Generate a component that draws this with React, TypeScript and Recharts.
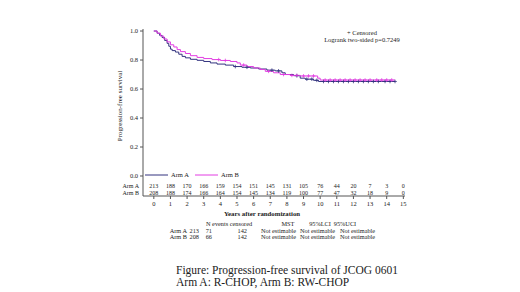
import React from "react";
import { ComposedChart, Line, Scatter, XAxis, YAxis } from "recharts";

const xTicks = [0, 1, 2, 3, 4, 5, 6, 7, 8, 9, 10, 11, 12, 13, 14, 15];
const yTicks = [0, 0.2, 0.4, 0.6, 0.8, 1.0];
const armARisk = [213, 188, 170, 166, 159, 154, 151, 145, 131, 105, 76, 44, 20, 7, 3, 0];
const armBRisk = [208, 188, 174, 166, 164, 154, 145, 134, 119, 100, 77, 47, 32, 18, 9, 0];

const armATimes = [0, 0.2, 0.35, 0.5, 0.65, 0.8, 0.9, 1.0, 1.1, 1.3, 1.5, 1.7, 1.9, 2.2, 2.6, 3.0, 3.4, 3.8, 4.3, 4.8, 5.3, 5.8, 6.3, 6.8, 7.3, 7.7, 7.9, 8.4, 8.8, 9.1, 9.6, 9.9];
const armASurv = [1.0, 0.985, 0.97, 0.955, 0.935, 0.915, 0.895, 0.875, 0.865, 0.855, 0.84, 0.825, 0.815, 0.805, 0.798, 0.79, 0.78, 0.772, 0.765, 0.755, 0.75, 0.745, 0.738, 0.73, 0.725, 0.712, 0.70, 0.692, 0.675, 0.668, 0.66, 0.652];
const armBTimes = [0, 0.2, 0.4, 0.6, 0.8, 1.0, 1.2, 1.4, 1.6, 1.9, 2.2, 2.6, 3.0, 3.5, 4.0, 4.6, 5.0, 5.2, 5.6, 6.0, 6.4, 6.7, 7.2, 7.6, 8.2, 8.8, 9.85, 10.0];
const armBSurv = [1.0, 0.985, 0.965, 0.945, 0.925, 0.905, 0.89, 0.872, 0.858, 0.845, 0.83, 0.818, 0.81, 0.803, 0.797, 0.79, 0.78, 0.765, 0.755, 0.745, 0.735, 0.722, 0.712, 0.70, 0.694, 0.69, 0.675, 0.662];
const armAEnd = 14.5;
const armBEnd = 14.5;
const armACensor = [4.9, 5.6, 7.1, 7.5, 8.6, 9.2, 9.5, 9.8, 10.2, 10.5, 10.8, 11.1, 11.4, 11.7, 12.0, 12.3, 12.6, 12.9, 13.2, 13.5, 13.9, 14.2, 14.5];
const armBCensor = [3.9, 4.3, 5.4, 6.9, 7.8, 8.3, 8.6, 9.0, 9.3, 9.6, 10.3, 10.6, 10.9, 11.2, 11.5, 11.8, 12.1, 12.4, 12.7, 13.0, 13.4, 13.7, 14.0, 14.3];

const COLOR_A = "#33337f";
const COLOR_B = "#e23ce2";
const AXIS = "#555";
const TXT = "#222";
const FONT = "'Liberation Serif', 'Times New Roman', serif";

function buildSeries(times: number[], surv: number[], end: number) {
  const rows = times.map((t, i) => ({ t, s: surv[i] }));
  rows.push({ t: end, s: surv[surv.length - 1] });
  return rows;
}
function survAt(times: number[], surv: number[], t: number) {
  let s = surv[0];
  for (let i = 0; i < times.length; i++) if (times[i] <= t) s = surv[i];
  return s;
}
const seriesA = buildSeries(armATimes, armASurv, armAEnd);
const seriesB = buildSeries(armBTimes, armBSurv, armBEnd);
const censorA = armACensor.map((t) => ({ t, s: survAt(armATimes, armASurv, t) }));
const censorB = armBCensor.map((t) => ({ t, s: survAt(armBTimes, armBSurv, t) }));

const plus = (color: string) => (props: any) => {
  const { cx, cy } = props;
  if (cx == null || cy == null) return <g />;
  return <path d={`M${cx - 1.8},${cy}h3.6M${cx},${cy - 1.8}v3.6`} stroke={color} strokeWidth={0.8} fill="none" />;
};

const XTick = (props: any) => {
  const { x, y, payload } = props;
  const i = xTicks.indexOf(payload.value);
  return (
    <g fontFamily={FONT} fill={TXT} textAnchor="middle">
      <text x={x} y={y - 13} fontSize={6}>{armARisk[i]}</text>
      <text x={x} y={y - 6.5} fontSize={6}>{armBRisk[i]}</text>
      <text x={x} y={y + 5} fontSize={6.5}>{payload.value}</text>
    </g>
  );
};

export default function App() {
  return (
    <div style={{ position: "absolute", left: 0, top: 0, width: 520, height: 292, background: "#fff" }}>
      <ComposedChart width={520} height={292} margin={{ top: 29, right: 115, bottom: 76, left: 113 }}>
        <XAxis
          dataKey="t"
          type="number"
          domain={[-0.65, 15.1]}
          ticks={xTicks}
          allowDataOverflow
          tick={<XTick />}
          tickSize={3}
          tickMargin={2}
          height={20}
          stroke={AXIS}
          interval={0}
        />
        <XAxis xAxisId="top" orientation="top" type="number" domain={[0, 1]} tick={false} tickLine={false} height={0} stroke={AXIS} />
        <YAxis
          dataKey="s"
          type="number"
          domain={[-0.138, 1.014]}
          ticks={yTicks}
          allowDataOverflow
          tickFormatter={(v: number) => v.toFixed(1)}
          tickSize={3}
          tickMargin={2}
          width={30}
          stroke={AXIS}
          tick={{ fontSize: 6.5, fill: TXT, fontFamily: FONT }}
        />
        <YAxis yAxisId="right" orientation="right" type="number" domain={[0, 1]} tick={false} tickLine={false} width={0} stroke={AXIS} />
        <Line data={seriesA} dataKey="s" type="stepAfter" stroke={COLOR_A} strokeWidth={1} dot={false} isAnimationActive={false} />
        <Line data={seriesB} dataKey="s" type="stepAfter" stroke={COLOR_B} strokeWidth={1} dot={false} isAnimationActive={false} />
        <Scatter data={censorA} dataKey="s" shape={plus(COLOR_A)} isAnimationActive={false} />
        <Scatter data={censorB} dataKey="s" shape={plus(COLOR_B)} isAnimationActive={false} />
      </ComposedChart>
      <svg width={520} height={292} style={{ position: "absolute", left: 0, top: 0, pointerEvents: "none" }} fontFamily={FONT} fill={TXT}>
        <text x={362} y={35} fontSize={6.5} textAnchor="middle">+ Censored</text>
        <text x={362} y={41.5} fontSize={6.5} textAnchor="middle">Logrank two-sided p=0.7249</text>
        <text transform="translate(122,106) rotate(-90)" fontSize={7} textAnchor="middle">Progression-free survival</text>
        <line x1={145} y1={175} x2={168} y2={175} stroke={COLOR_A} strokeWidth={1} />
        <text x={171} y={177} fontSize={6.5}>Arm A</text>
        <line x1={195} y1={175} x2={218} y2={175} stroke={COLOR_B} strokeWidth={1} />
        <text x={221} y={177} fontSize={6.5}>Arm B</text>
        <text x={139} y={188} fontSize={6} textAnchor="end">Arm A</text>
        <text x={139} y={194.5} fontSize={6} textAnchor="end">Arm B</text>
        <text x={262} y={215.5} fontSize={6.8} fontWeight="bold" textAnchor="middle">Years after randomization</text>
        <text x={206} y={226} fontSize={6.3}>N events censored</text>
        <text x={288} y={226} fontSize={6.3} textAnchor="middle">MST</text>
        <text x={320} y={226} fontSize={6.3} textAnchor="middle">95%LCI</text>
        <text x={345} y={226} fontSize={6.3} textAnchor="middle">95%UCI</text>
        {[["Arm A", "213", "71", "142"], ["Arm B", "208", "66", "142"]].map((r, k) => (
          <g key={k} fontSize={6.3}>
            <text x={187} y={232.5 + k * 6.3} textAnchor="end">{r[0]}</text>
            <text x={199} y={232.5 + k * 6.3} textAnchor="end">{r[1]}</text>
            <text x={212} y={232.5 + k * 6.3} textAnchor="end">{r[2]}</text>
            <text x={247} y={232.5 + k * 6.3} textAnchor="end">{r[3]}</text>
            <text x={261} y={232.5 + k * 6.3}>Not estimable</text>
            <text x={300} y={232.5 + k * 6.3}>Not estimable</text>
            <text x={340} y={232.5 + k * 6.3}>Not estimable</text>
          </g>
        ))}
        <text x={176} y={273.5} fontSize={11.5}>Figure: Progression-free survival of JCOG 0601</text>
        <text x={176} y={285.5} fontSize={11.5}>Arm A: R-CHOP, Arm B: RW-CHOP</text>
      </svg>
    </div>
  );
}
